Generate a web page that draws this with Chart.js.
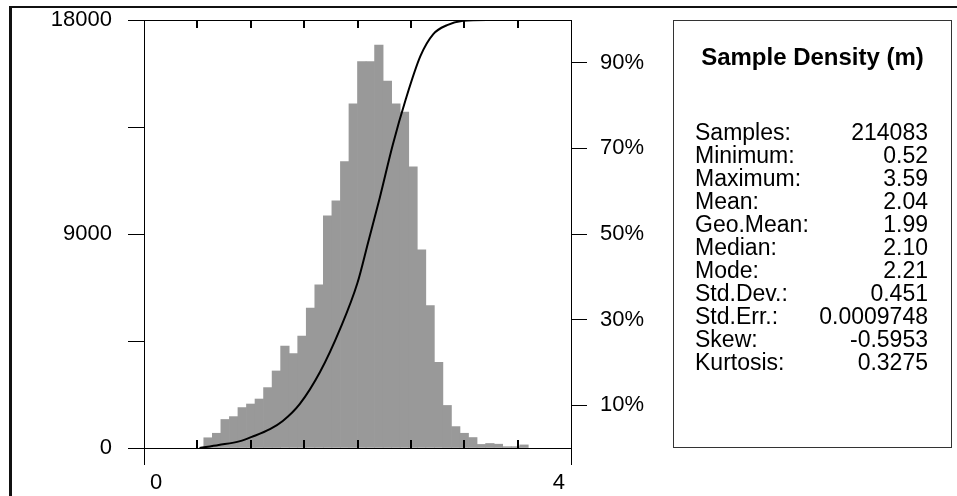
<!DOCTYPE html>
<html>
<head>
<meta charset="utf-8">
<title>Sample Density (m)</title>
<script src="https://cdn.jsdelivr.net/npm/chart.js@4.4.1/dist/chart.umd.min.js"></script>
<style>
  body { margin: 0; background: #fff; }
  #wrap { position: relative; width: 957px; height: 496px; overflow: hidden; font-family: "Liberation Sans", Arial, sans-serif; color: #000; }
  #chart { position: absolute; left: 0; top: 0; }
  .frame { position: absolute; left: 9px; top: 6px; width: 1000px; height: 600px; border-top: 2px solid #111; border-left: 3px solid #111; }
  .stats { position: absolute; left: 673px; top: 20px; width: 279px; height: 428px; box-sizing: border-box; border: 1px solid #333; }
  .stats .title { position: absolute; left: 0; right: 0; top: 24px; text-align: center; font-weight: bold; font-size: 24px; line-height: 24px; }
  .stats .col { position: absolute; top: 100px; font-size: 23px; line-height: 23px; white-space: pre; }
  .stats .labels { left: 21px; }
  .stats .values { right: 23px; text-align: right; }
</style>
</head>
<body>
<div id="wrap">
  <canvas id="chart" width="957" height="496"></canvas>
  <div class="frame"></div>
  <div class="stats">
    <div class="title" id="statTitle"></div>
    <div class="col labels" id="statLabels"></div>
    <div class="col values" id="statValues"></div>
  </div>
</div>
<script>
// histogram bins (bin centre, m) and counts
const binCenters = [
  0.60, 0.68, 0.76, 0.84, 0.92, 1.00, 1.08, 1.16, 1.24, 1.32,
  1.40, 1.48, 1.56, 1.64, 1.72, 1.80, 1.88, 1.96, 2.04, 2.12,
  2.20, 2.28, 2.36, 2.44, 2.52, 2.60, 2.68, 2.76, 2.84, 2.92,
  3.00, 3.08, 3.16, 3.24, 3.32, 3.40, 3.48, 3.56,
];
const binCounts = [
  430, 620, 1200, 1320, 1700, 1850, 2060, 2540, 3240, 4290,
  3970, 4710, 5880, 6860, 9760, 10390, 12050, 14470, 16250, 16250,
  16950, 15430, 14470, 14130, 11830, 8330, 5990, 3600, 1790, 900,
  620, 440, 150, 190, 160, 55, 55, 130,
];

// cumulative curve (percent)
const cdfX = [0.52, 0.70, 0.90, 1.01, 1.18, 1.30, 1.46, 1.65, 1.84, 2.00, 2.10, 2.21, 2.33, 2.45, 2.59, 2.71, 2.84, 2.99, 3.21, 3.59];
const cdfPct = [0, 0.7, 1.6, 2.6, 4.4, 6.3, 10.3, 17.8, 28.0, 38.6, 48.1, 58.6, 70.8, 81.3, 91.6, 96.7, 98.8, 99.8, 100, 100];

// axis ticks
const xTicks = [0, 0.5, 1, 1.5, 2, 2.5, 3, 3.5, 4];
const xLabelled = [0, 4];
const yTicks = [0, 4500, 9000, 13500, 18000];
const yLabelled = [0, 9000, 18000];
const pctTicks = [10, 30, 50, 70, 90];

// stats panel
const statTitle = "Sample Density (m)";
const statLabels = ["Samples:", "Minimum:", "Maximum:", "Mean:", "Geo.Mean:", "Median:", "Mode:", "Std.Dev.:", "Std.Err.:", "Skew:", "Kurtosis:"];
const statValues = ["214083", "0.52", "3.59", "2.04", "1.99", "2.10", "2.21", "0.451", "0.0009748", "-0.5953", "0.3275"];

document.getElementById("statTitle").textContent = statTitle;
document.getElementById("statLabels").textContent = statLabels.join("\n");
document.getElementById("statValues").textContent = statValues.join("\n");

const FONT = { family: "'Liberation Sans', Arial, sans-serif", size: 22 };

// fixed axis sizes so the plot box lands at 144..571 x 20..448
function fixSize(w, h) {
  return function (s) {
    if (w != null) s.width = w;
    if (h != null) s.height = h;
    s.paddingTop = 0;
    s.paddingBottom = 0;
    s.paddingLeft = 0;
    s.paddingRight = 0;
  };
}

// top frame line + short inward ticks on top and bottom edges
const frameTicks = {
  id: "frameTicks",
  afterDatasetsDraw(chart) {
    const ctx = chart.ctx;
    const a = chart.chartArea;
    const x = chart.scales.x;
    ctx.save();
    ctx.strokeStyle = "#000";
    ctx.lineWidth = 1;
    ctx.beginPath();
    ctx.moveTo(a.left, Math.round(a.top) + 0.5);
    ctx.lineTo(a.right, Math.round(a.top) + 0.5);
    ctx.stroke();
    ctx.lineWidth = 2;
    ctx.beginPath();
    x.ticks.forEach(function (t) {
      if (t.value <= x.min || t.value >= x.max) return;
      const px = Math.round(x.getPixelForValue(t.value));
      ctx.moveTo(px, a.top);
      ctx.lineTo(px, a.top + 8);
      ctx.moveTo(px, a.bottom);
      ctx.lineTo(px, a.bottom - 8);
    });
    ctx.stroke();
    ctx.restore();
  },
};

new Chart(document.getElementById("chart").getContext("2d"), {
  type: "bar",
  data: {
    datasets: [
      {
        type: "line",
        data: cdfX.map((v, i) => ({ x: v, y: cdfPct[i] })),
        yAxisID: "y2",
        borderColor: "#000",
        borderWidth: 2,
        pointRadius: 0,
        cubicInterpolationMode: "monotone",
        order: 0,
      },
      {
        data: binCenters.map((v, i) => ({ x: v, y: binCounts[i] })),
        yAxisID: "y",
        backgroundColor: "#999999",
        barPercentage: 1,
        categoryPercentage: 1,
        grouped: false,
        order: 1,
      },
    ],
  },
  options: {
    responsive: false,
    animation: false,
    layout: { padding: { top: 20, left: 0, right: 0, bottom: 0 } },
    plugins: { legend: { display: false }, tooltip: { enabled: false } },
    scales: {
      x: {
        type: "linear",
        min: 0,
        max: 4,
        offset: false,
        afterBuildTicks: (s) => { s.ticks = xTicks.map((v) => ({ value: v })); },
        afterFit: fixSize(null, 48),
        ticks: {
          autoSkip: false,
          maxRotation: 0,
          align: "inner",
          padding: 5,
          color: "#000",
          font: FONT,
          callback: (v) => (v === 0 ? " 0" : xLabelled.includes(v) ? v + " " : ""),
        },
        grid: {
          offset: false,
          drawOnChartArea: false,
          tickLength: 17,
          lineWidth: 1,
          color: (c) => (c.tick && xLabelled.includes(c.tick.value) ? "#000" : "rgba(0,0,0,0)"),
        },
        border: { display: true, color: "#000", width: 1 },
      },
      y: {
        position: "left",
        min: 0,
        max: 18000,
        afterBuildTicks: (s) => { s.ticks = yTicks.map((v) => ({ value: v })); },
        afterFit: fixSize(144, null),
        ticks: {
          padding: 16,
          color: "#000",
          font: FONT,
          callback: (v) => (yLabelled.includes(v) ? String(v) : ""),
        },
        grid: { drawOnChartArea: false, tickLength: 16, color: "#000" },
        border: { color: "#000" },
      },
      y2: {
        position: "right",
        min: 0,
        max: 100,
        afterBuildTicks: (s) => { s.ticks = pctTicks.map((v) => ({ value: v })); },
        afterFit: fixSize(957 - 571, null),
        ticks: {
          padding: 13,
          color: "#000",
          font: FONT,
          callback: (v) => v + "%",
        },
        grid: { drawOnChartArea: false, tickLength: 16, color: "#000" },
        border: { color: "#000" },
      },
    },
  },
  plugins: [frameTicks],
});
</script>
</body>
</html>
